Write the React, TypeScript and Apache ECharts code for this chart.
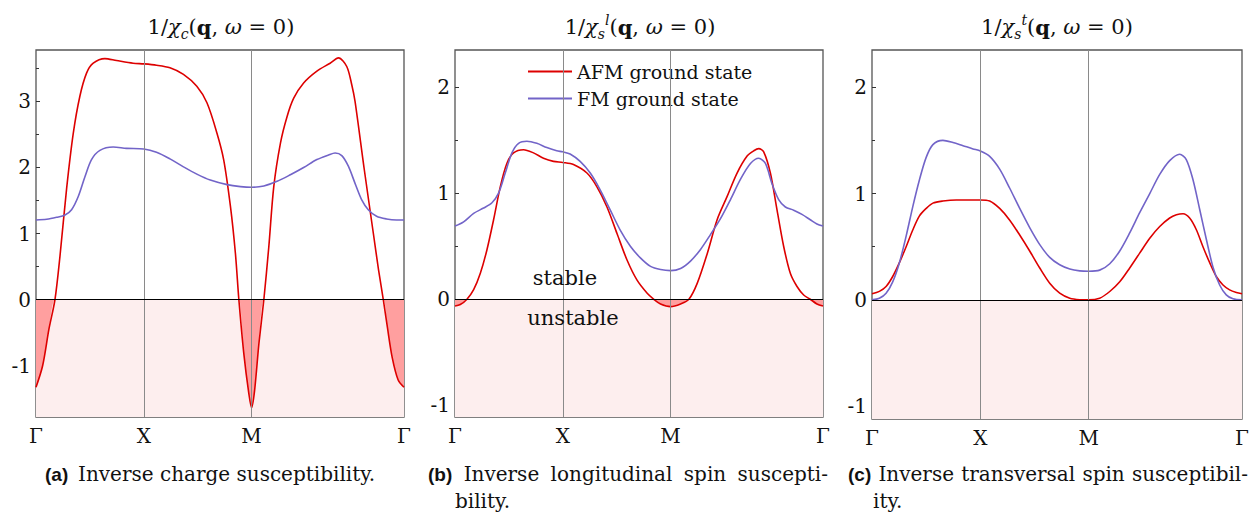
import React, { useEffect, useRef } from 'react';
import * as echarts from 'echarts';

// x coordinate: path length along Γ(0) → X(1) → M(2) → Γ(2+√2)
const X_END = 2 + Math.SQRT2;
const kPointPos = [0, 1, 2, X_END];
const kPointLabels = ['Γ', 'X', 'M', 'Γ'];

// (a) inverse charge susceptibility
const chargeAFM: [number, number][] = [
  [0, -1.33], [0.062, -1.0], [0.12, -0.45], [0.176, 0], [0.222, 0.65], [0.284, 1.68], [0.346, 2.52],
  [0.407, 3.08], [0.469, 3.43], [0.531, 3.58], [0.639, 3.65], [0.747, 3.62], [0.901, 3.58], [1, 3.57],
  [1.118, 3.55], [1.243, 3.51], [1.368, 3.41], [1.492, 3.23], [1.586, 2.98], [1.679, 2.52], [1.741, 2.12],
  [1.804, 1.41], [1.85, 0.7], [1.882, 0], [1.928, -0.82], [1.975, -1.43], [2, -1.64], [2.028, -1.38],
  [2.068, -0.67], [2.114, 0], [2.16, 0.8], [2.206, 1.71], [2.268, 2.37], [2.329, 2.77], [2.391, 3.05],
  [2.483, 3.28], [2.606, 3.46], [2.729, 3.58], [2.806, 3.66], [2.883, 3.53], [2.93, 3.25], [2.96, 3.0],
  [3.043, 2.0], [3.13, 1.0], [3.178, 0.45], [3.222, 0], [3.26, -0.42], [3.305, -0.88], [3.36, -1.22],
  [X_END, -1.33],
];
const chargeFM: [number, number][] = [
  [0, 1.205], [0.099, 1.215], [0.191, 1.245], [0.269, 1.28], [0.33, 1.36], [0.392, 1.56], [0.454, 1.86],
  [0.515, 2.12], [0.593, 2.26], [0.716, 2.31], [0.84, 2.29], [1, 2.28], [1.118, 2.23], [1.243, 2.13],
  [1.368, 2.01], [1.492, 1.9], [1.617, 1.81], [1.773, 1.74], [1.897, 1.71], [2, 1.7], [2.114, 1.72],
  [2.237, 1.79], [2.36, 1.89], [2.483, 2.0], [2.606, 2.12], [2.714, 2.19], [2.775, 2.22], [2.837, 2.18],
  [2.898, 2.02], [2.96, 1.76], [3.022, 1.51], [3.083, 1.36], [3.16, 1.26], [3.252, 1.22], [3.345, 1.205],
  [X_END, 1.205],
];

// (b) inverse longitudinal spin susceptibility
const longAFM: [number, number][] = [
  [0, -0.063], [0.049, -0.05], [0.111, 0], [0.173, 0.09], [0.235, 0.245], [0.296, 0.465], [0.358, 0.75],
  [0.42, 1.06], [0.481, 1.28], [0.543, 1.38], [0.636, 1.41], [0.728, 1.38], [0.821, 1.33], [0.914, 1.3],
  [1, 1.29], [1.099, 1.27], [1.224, 1.19], [1.317, 1.06], [1.41, 0.87], [1.503, 0.62], [1.596, 0.37],
  [1.689, 0.18], [1.783, 0.057], [1.845, 0], [1.907, -0.044], [2, -0.069], [2.093, -0.044], [2.17, 0],
  [2.247, 0.15], [2.34, 0.43], [2.432, 0.75], [2.525, 0.97], [2.617, 1.19], [2.71, 1.35], [2.772, 1.4],
  [2.818, 1.42], [2.864, 1.39], [2.926, 1.19], [2.988, 0.84], [3.049, 0.5], [3.111, 0.245], [3.173, 0.12],
  [3.235, 0.04], [3.296, 0], [3.358, -0.044], [X_END, -0.063],
];
const longFM: [number, number][] = [
  [0, 0.69], [0.08, 0.73], [0.173, 0.81], [0.265, 0.86], [0.343, 0.91], [0.404, 1.0], [0.466, 1.19],
  [0.528, 1.38], [0.59, 1.47], [0.667, 1.49], [0.759, 1.47], [0.852, 1.43], [0.944, 1.4], [1, 1.39],
  [1.068, 1.37], [1.161, 1.3], [1.255, 1.19], [1.348, 1.03], [1.441, 0.84], [1.534, 0.65], [1.627, 0.5],
  [1.72, 0.39], [1.814, 0.31], [1.907, 0.28], [2, 0.27], [2.093, 0.29], [2.185, 0.36], [2.278, 0.47],
  [2.37, 0.61], [2.463, 0.76], [2.556, 0.94], [2.648, 1.13], [2.741, 1.28], [2.818, 1.33], [2.88, 1.28],
  [2.941, 1.09], [3.003, 0.94], [3.065, 0.87], [3.142, 0.84], [3.219, 0.8], [3.296, 0.75], [3.358, 0.71],
  [X_END, 0.69],
];

// (c) inverse transversal spin susceptibility
const transAFM: [number, number][] = [
  [0, 0.057], [0.068, 0.08], [0.13, 0.126], [0.191, 0.22], [0.253, 0.35], [0.315, 0.5], [0.377, 0.66],
  [0.438, 0.79], [0.5, 0.86], [0.562, 0.91], [0.654, 0.93], [0.778, 0.94], [0.901, 0.94], [1, 0.94],
  [1.086, 0.93], [1.178, 0.86], [1.271, 0.75], [1.363, 0.61], [1.455, 0.46], [1.548, 0.3], [1.64, 0.157],
  [1.732, 0.063], [1.825, 0.016], [1.917, 0.002], [2, 0], [2.101, 0.016], [2.194, 0.079], [2.286, 0.17],
  [2.378, 0.3], [2.47, 0.44], [2.563, 0.58], [2.655, 0.69], [2.747, 0.77], [2.809, 0.8], [2.87, 0.81],
  [2.931, 0.77], [2.993, 0.66], [3.054, 0.5], [3.116, 0.35], [3.177, 0.22], [3.239, 0.14], [3.3, 0.094],
  [3.362, 0.069], [X_END, 0.057],
];
const transFM: [number, number][] = [
  [0, 0], [0.068, 0.016], [0.13, 0.063], [0.191, 0.17], [0.253, 0.35], [0.315, 0.6], [0.377, 0.88],
  [0.438, 1.13], [0.5, 1.34], [0.562, 1.46], [0.654, 1.5], [0.747, 1.48], [0.84, 1.45], [0.932, 1.42],
  [1, 1.4], [1.086, 1.35], [1.178, 1.23], [1.271, 1.05], [1.363, 0.86], [1.455, 0.68], [1.548, 0.52],
  [1.64, 0.4], [1.732, 0.33], [1.825, 0.29], [1.917, 0.273], [2, 0.27], [2.101, 0.28], [2.194, 0.34],
  [2.286, 0.46], [2.378, 0.63], [2.47, 0.82], [2.563, 1.0], [2.655, 1.18], [2.747, 1.31], [2.839, 1.37],
  [2.9, 1.32], [2.962, 1.13], [3.024, 0.85], [3.085, 0.57], [3.146, 0.31], [3.208, 0.14], [3.269, 0.047],
  [3.331, 0.01], [X_END, 0],
];

const panelAFM = [chargeAFM, longAFM, transAFM];
const panelFM = [chargeFM, longFM, transFM];
const yRanges: [number, number][] = [[-1.78, 3.78], [-1.11, 2.35], [-1.12, 2.35]];
const yMajorTicks = [[-1, 0, 1, 2, 3], [-1, 0, 1, 2], [-1, 0, 1, 2]];
const yMinorTicks = [[-1.5, -0.5, 0.5, 1.5, 2.5, 3.5], [-0.5, 0.5, 1.5], [-0.5, 0.5, 1.5]];

const AFM_NAME = 'AFM ground state';
const FM_NAME = 'FM ground state';

const captionB = ['(b)', 'Inverse', 'longitudinal', 'spin', 'suscepti-'];
const captionB2 = 'bility.';
const captionC = ['(c)', 'Inverse', 'transversal', 'spin', 'susceptibil-'];
const captionC2 = 'ity.';

const SERIF = '"DejaVu Serif", "Liberation Serif", serif';
const SANS = '"Liberation Sans", Arial, sans-serif';
const RED = '#dd0000';
const BLUE = '#7264c8';
const TEXT = '#111';

const grids = [
  { left: 36, top: 50, width: 368, height: 367 },
  { left: 455, top: 50, width: 368, height: 367 },
  { left: 872, top: 50, width: 370, height: 369 },
];

let measureCtx: CanvasRenderingContext2D | null = null;
function measure(text: string, font: string) {
  if (!measureCtx) measureCtx = document.createElement('canvas').getContext('2d');
  if (!measureCtx) return text.length * 10;
  measureCtx.font = font;
  return measureCtx.measureText(text).width;
}

function titleText(cx: number, sym: string, sup: string | null) {
  const base = { fontFamily: SERIF, fontSize: 21, lineHeight: 28, fill: TEXT };
  const small = { fontFamily: SERIF, fontSize: 14, fontStyle: 'italic', fill: TEXT };
  const rich: any = {
    n: { ...base },
    i: { ...base, fontStyle: 'italic' },
    b: { ...base, fontWeight: 'bold' },
    sub: { ...small, lineHeight: 14, verticalAlign: 'bottom' },
    sup: { ...small, lineHeight: 22, verticalAlign: 'top' },
  };
  const mid = sup ? `{sub|${sym}}{sup|${sup}}` : `{sub|${sym}}`;
  return {
    type: 'text',
    x: cx,
    y: 27,
    z: 10,
    style: {
      text: `{n|1/}{i|χ}${mid}{n|(}{b|q}{n|, }{i|ω}{n| = 0)}`,
      rich,
      textAlign: 'center',
      textVerticalAlign: 'middle',
    },
  };
}

function word(x: number, y: number, text: string, bold: boolean, size: number) {
  return {
    type: 'text',
    x,
    y,
    z: 10,
    style: {
      text,
      fontFamily: bold ? SANS : SERIF,
      fontWeight: bold ? 'bold' : 'normal',
      fontSize: bold ? size - 1 : size,
      fill: TEXT,
      textAlign: 'left',
      textVerticalAlign: 'middle',
    },
  };
}

// justified first caption line (label in bold sans, rest serif) + continuation line
function justified(words: string[], left: number, right: number, y: number, cont: string, contX: number) {
  let size = 20;
  let widths: number[] = [];
  let gap = 0;
  for (; size >= 16; size -= 0.5) {
    widths = words.map((w, k) =>
      k === 0 ? measure(w, `bold ${size - 1}px ${SANS}`) : measure(w, `${size}px ${SERIF}`)
    );
    const sum = widths.reduce((a, b) => a + b, 0);
    gap = (right - left - sum) / (words.length - 1);
    if (gap >= 6) break;
  }
  const out: any[] = [];
  let x = left;
  words.forEach((w, k) => {
    out.push(word(x, y, w, k === 0, size));
    x += widths[k] + gap;
  });
  out.push(word(contX, y + 27, cont, false, size));
  return out;
}

function buildOption() {
  const xAxis: any[] = [];
  const yAxis: any[] = [];
  const series: any[] = [];
  grids.forEach((_, i) => {
    xAxis.push({
      type: 'value',
      gridIndex: i,
      min: 0,
      max: X_END,
      axisLine: { show: false },
      splitLine: { show: false },
      axisTick: { show: true, inside: true, length: 4, customValues: [1, 2], lineStyle: { color: '#444' } },
      axisLabel: {
        customValues: kPointPos,
        showMinLabel: true,
        showMaxLabel: true,
        margin: 9,
        fontFamily: SERIF,
        fontSize: 20,
        color: TEXT,
        formatter: (v: number) => {
          const k = kPointPos.findIndex((p) => Math.abs(p - v) < 1e-6);
          return k >= 0 ? kPointLabels[k] : '';
        },
      },
    });
    const [ymin, ymax] = yRanges[i];
    yAxis.push({
      type: 'value',
      gridIndex: i,
      position: 'left',
      min: ymin,
      max: ymax,
      axisLine: { show: false },
      splitLine: { show: false },
      axisTick: { show: true, inside: true, length: 4, customValues: yMajorTicks[i], lineStyle: { color: '#333' } },
      axisLabel: {
        customValues: yMajorTicks[i],
        margin: 5,
        fontFamily: SERIF,
        fontSize: 20,
        color: TEXT,
        formatter: (v: number) => (v < 0 ? '-' + Math.abs(v) : String(v)),
      },
    });
    yAxis.push({
      type: 'value',
      gridIndex: i,
      position: 'left',
      offset: 0,
      min: ymin,
      max: ymax,
      axisLine: { show: false },
      splitLine: { show: false },
      axisLabel: { show: false },
      axisTick: { show: true, inside: true, length: 3, customValues: yMinorTicks[i], lineStyle: { color: '#333' } },
    });
    const yi = 2 * i;
    series.push({
      type: 'line',
      name: 'unstable region ' + i,
      xAxisIndex: i,
      yAxisIndex: yi,
      data: [[0, 0]],
      symbol: 'none',
      lineStyle: { opacity: 0 },
      silent: true,
      z: 1,
      markArea: {
        silent: true,
        itemStyle: { color: '#fdeeee' },
        data: [[{ yAxis: ymin }, { yAxis: 0 }]],
      },
    });
    series.push({
      type: 'line',
      name: 'negative part ' + i,
      xAxisIndex: i,
      yAxisIndex: yi,
      data: panelAFM[i].map(([s, v]) => [s, Math.min(v, 0)]),
      smooth: 0.3,
      symbol: 'none',
      lineStyle: { width: 0 },
      areaStyle: { color: '#ff9f9f', opacity: 1, origin: 'auto' },
      silent: true,
      z: 2,
    });
    series.push({
      type: 'line',
      name: 'guides ' + i,
      xAxisIndex: i,
      yAxisIndex: yi,
      data: [],
      z: 3,
      markLine: {
        silent: true,
        symbol: 'none',
        label: { show: false },
        data: [
          { xAxis: 1, lineStyle: { color: '#8a8a8a', width: 1, type: 'solid' } },
          { xAxis: 2, lineStyle: { color: '#8a8a8a', width: 1, type: 'solid' } },
          { yAxis: 0, lineStyle: { color: '#000', width: 1, type: 'solid' } },
        ],
      },
    });
    series.push({
      type: 'line',
      name: AFM_NAME,
      xAxisIndex: i,
      yAxisIndex: yi,
      data: panelAFM[i],
      smooth: 0.3,
      symbol: 'none',
      color: RED,
      lineStyle: { color: RED, width: 1.6 },
      z: 4,
    });
    series.push({
      type: 'line',
      name: FM_NAME,
      xAxisIndex: i,
      yAxisIndex: yi,
      data: panelFM[i],
      smooth: 0.3,
      symbol: 'none',
      color: BLUE,
      lineStyle: { color: BLUE, width: 1.6 },
      z: 4,
    });
  });

  const graphic: any[] = [
    titleText(221, 'c', null),
    titleText(640, 's', 'l'),
    titleText(1057, 's', 't'),
    { type: 'text', x: 565, y: 278, z: 10, style: { text: 'stable', fontFamily: SERIF, fontSize: 21, fill: TEXT, textAlign: 'center', textVerticalAlign: 'middle' } },
    { type: 'text', x: 573, y: 318, z: 10, style: { text: 'unstable', fontFamily: SERIF, fontSize: 21, fill: TEXT, textAlign: 'center', textVerticalAlign: 'middle' } },
    word(45, 474, '(a)', true, 20),
    word(78, 474, 'Inverse charge susceptibility.', false, 20),
    ...justified(captionB, 428, 828, 474, captionB2, 455),
    ...justified(captionC, 848, 1248, 474, captionC2, 873),
  ];

  return {
    animation: false,
    backgroundColor: '#ffffff',
    grid: grids.map((g) => ({ ...g, show: true, borderColor: '#555555', borderWidth: 1.3, backgroundColor: 'transparent' })),
    legend: {
      data: [AFM_NAME, FM_NAME],
      orient: 'vertical',
      left: 523,
      top: 56,
      icon: 'rect',
      itemWidth: 44,
      itemHeight: 2,
      itemGap: 6,
      selectedMode: false,
      textStyle: { fontFamily: SERIF, fontSize: 19, color: TEXT, lineHeight: 21 },
    },
    xAxis,
    yAxis,
    series,
    graphic,
  };
}

export default function App() {
  const ref = useRef<HTMLDivElement>(null);
  useEffect(() => {
    document.body.style.margin = '0';
    if (!ref.current) return;
    const chart = echarts.init(ref.current, undefined, { renderer: 'svg' });
    chart.setOption(buildOption() as any);
    return () => chart.dispose();
  }, []);
  return <div ref={ref} style={{ width: 1252, height: 514 }} />;
}
